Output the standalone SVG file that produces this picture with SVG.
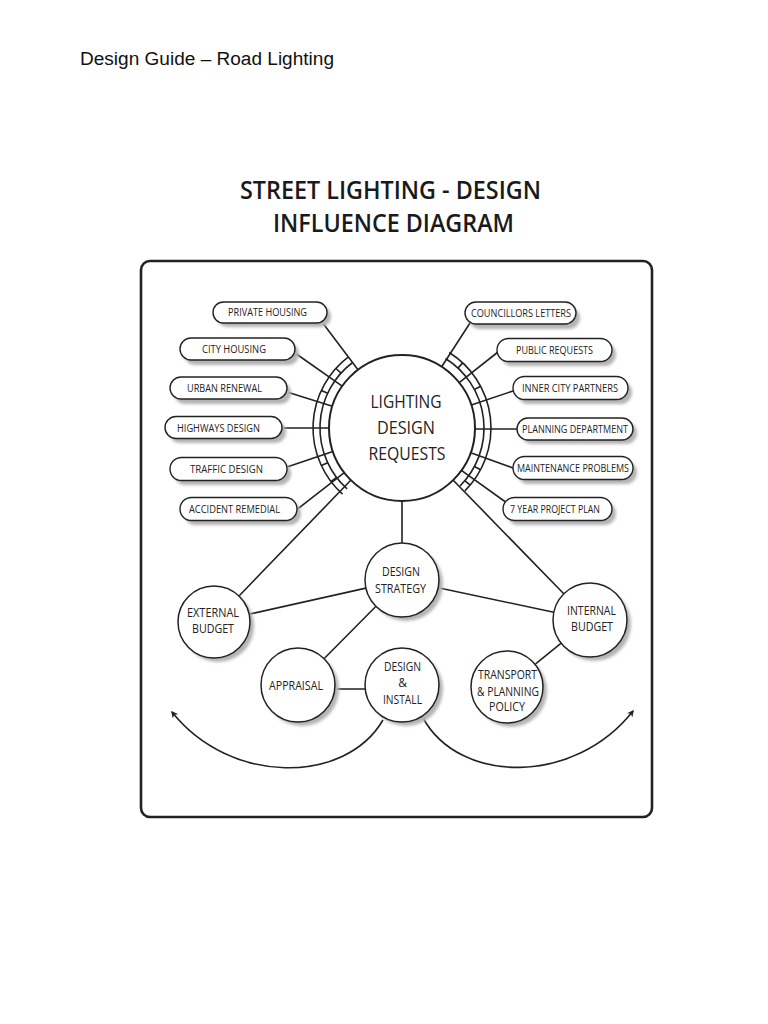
<svg xmlns="http://www.w3.org/2000/svg" width="768" height="1024" viewBox="0 0 768 1024">
<defs>
<filter id="sh" x="-20%" y="-20%" width="140%" height="140%"><feGaussianBlur stdDeviation="1.6"/></filter>
<marker id="ah" viewBox="0 0 10 10" refX="8" refY="5" markerWidth="7" markerHeight="7" orient="auto-start-reverse" markerUnits="userSpaceOnUse"><path d="M0,0 L10,5 L0,10 L3,5 Z" fill="#222"/></marker>
</defs>
<style>
.ln{stroke:#222;stroke-width:1.6;fill:none}
.pill{fill:#fff;stroke:#222;stroke-width:1.4}
.shd{fill:#b4b4b4;filter:url(#sh)}
.cir{fill:#fff;stroke:#222;stroke-width:1.5}
.pt{font-family:"Open Sans","Liberation Sans",sans-serif;font-size:10.5px;fill:#222;text-anchor:middle}
.ct{font-family:"Open Sans","Liberation Sans",sans-serif;font-size:12px;fill:#222;text-anchor:middle}
.mt{font-family:"Open Sans","Liberation Sans",sans-serif;font-size:18px;fill:#222;text-anchor:middle}
.tt{font-family:"Open Sans","Liberation Sans",sans-serif;font-size:26px;font-weight:600;fill:#1a1a1a;text-anchor:middle}
</style>
<rect width="768" height="1024" fill="#fff"/>
<text x="80" y="65" font-family="Liberation Sans, Arial, sans-serif" font-size="18" fill="#111" textLength="254" lengthAdjust="spacingAndGlyphs">Design Guide – Road Lighting</text>
<text class="tt" x="390.5" y="199" textLength="301" lengthAdjust="spacingAndGlyphs">STREET LIGHTING - DESIGN</text>
<text class="tt" x="393.5" y="232" textLength="241" lengthAdjust="spacingAndGlyphs">INFLUENCE DIAGRAM</text>
<rect x="141" y="261" width="511" height="556" rx="9" fill="none" stroke="#222" stroke-width="2.6"/>

<g id="connectors">
<path class="ln" d="M342.5,494.1 A89,89 0 0 1 348.4,356.9 M347.1,488.9 A82,82 0 0 1 352.6,362.5"/>
<path class="ln" d="M449.2,352.5 A89,89 0 0 1 464.9,490.9 M445.5,358.5 A82,82 0 0 1 460,486"/>
<path class="ln" d="M322,322 L358,369.7 M295,353 L342.2,386.1 M287,392 L332.4,406.2 M282,428 L329,428 M287,467 L332.9,451.4 M295,511 L344.3,472.7"/>
<path class="ln" d="M470,323 L441.7,366.7 M498,352 L459.2,382.7 M513,391 L471.3,404.9 M517,429 L475,429 M513,468 L470.7,452.7 M507,503 L461.4,470.4"/>
<path class="ln" d="M341.1,373.1 L335.9,368.5 M327.7,393.3 L321.4,390.4 M327.7,462.7 L321.4,465.6 M336.5,477.4 L330.9,481.6 M457.9,368.1 L462.7,362.9 M474.4,389.5 L480.6,386.3 M474.4,466.5 L480.6,469.7 M464.8,480.7 L470.2,485.2"/>
<path class="ln" d="M239,596 L351,480 M564,594 L453,480"/>
<path class="ln" d="M402,501 L402,543 M365.9,588.1 L249.1,614.2 M438.2,587.7 L553.8,612.3 M376,606.3 L324,658.7 M335,689 L365,689 M561.2,643.2 L535,664.4"/>
<path class="ln" d="M383,720 C345,785 230,785 172,712" marker-end="url(#ah)"/>
<path class="ln" d="M423,718 C460,785 575,785 633,711" marker-end="url(#ah)"/>
</g>

<g id="n-private-housing"><rect class="shd" x="217" y="306" width="114" height="21" rx="10.5"/><rect class="pill" x="213" y="302" width="114" height="21" rx="10.5"/><text class="pt" x="267.5" y="316" textLength="79" lengthAdjust="spacingAndGlyphs">PRIVATE HOUSING</text></g>
<g id="n-city-housing"><rect class="shd" x="184" y="343" width="115" height="22" rx="11"/><rect class="pill" x="180" y="338" width="115" height="22" rx="11"/><text class="pt" x="234" y="353" textLength="64" lengthAdjust="spacingAndGlyphs">CITY HOUSING</text></g>
<g id="n-urban-renewal"><rect class="shd" x="174" y="382" width="117" height="22" rx="11"/><rect class="pill" x="170" y="377" width="117" height="22" rx="11"/><text class="pt" x="224.5" y="392" textLength="75" lengthAdjust="spacingAndGlyphs">URBAN RENEWAL</text></g>
<g id="n-highways-design"><rect class="shd" x="169" y="421" width="117" height="22" rx="11"/><rect class="pill" x="165" y="416.5" width="117" height="22" rx="11"/><text class="pt" x="218.5" y="431.5" textLength="83" lengthAdjust="spacingAndGlyphs">HIGHWAYS DESIGN</text></g>
<g id="n-traffic-design"><rect class="shd" x="174" y="462" width="117" height="23" rx="11.5"/><rect class="pill" x="170" y="457.5" width="117" height="23" rx="11.5"/><text class="pt" x="226.5" y="473" textLength="73" lengthAdjust="spacingAndGlyphs">TRAFFIC DESIGN</text></g>
<g id="n-accident-remedial"><rect class="shd" x="184" y="502" width="117" height="23" rx="11.5"/><rect class="pill" x="180" y="497.5" width="117" height="23" rx="11.5"/><text class="pt" x="234.5" y="513" textLength="91" lengthAdjust="spacingAndGlyphs">ACCIDENT REMEDIAL</text></g>

<g id="n-councillors-letters"><rect class="shd" x="469" y="307" width="111" height="22" rx="11"/><rect class="pill" x="465" y="302" width="111" height="22" rx="11"/><text class="pt" x="521" y="317" textLength="100" lengthAdjust="spacingAndGlyphs">COUNCILLORS LETTERS</text></g>
<g id="n-public-requests"><rect class="shd" x="501" y="343" width="115" height="23" rx="11.5"/><rect class="pill" x="497" y="338.5" width="115" height="23" rx="11.5"/><text class="pt" x="554.5" y="354" textLength="77" lengthAdjust="spacingAndGlyphs">PUBLIC REQUESTS</text></g>
<g id="n-inner-city-partners"><rect class="shd" x="517" y="381" width="115" height="23" rx="11.5"/><rect class="pill" x="513" y="376.5" width="115" height="23" rx="11.5"/><text class="pt" x="570" y="392" textLength="96" lengthAdjust="spacingAndGlyphs">INNER CITY PARTNERS</text></g>
<g id="n-planning-department"><rect class="shd" x="521" y="422" width="116" height="22" rx="11"/><rect class="pill" x="517" y="418" width="116" height="22" rx="11"/><text class="pt" x="575" y="433" textLength="106" lengthAdjust="spacingAndGlyphs">PLANNING DEPARTMENT</text></g>
<g id="n-maintenance-problems"><rect class="shd" x="517" y="461" width="120" height="23" rx="11.5"/><rect class="pill" x="513" y="456.5" width="120" height="23" rx="11.5"/><text class="pt" x="573" y="472" textLength="112" lengthAdjust="spacingAndGlyphs">MAINTENANCE PROBLEMS</text></g>
<g id="n-7-year-project-plan"><rect class="shd" x="507" y="502" width="109" height="23" rx="11.5"/><rect class="pill" x="503" y="497.5" width="109" height="23" rx="11.5"/><text class="pt" x="555" y="513" textLength="90" lengthAdjust="spacingAndGlyphs">7 YEAR PROJECT PLAN</text></g>

<g id="n-lighting-design-requests"><circle cx="402" cy="428" r="73" fill="#fff" stroke="#222" stroke-width="2"/>
<text class="mt" x="406" y="408" textLength="71" lengthAdjust="spacingAndGlyphs">LIGHTING</text>
<text class="mt" x="406" y="434" textLength="58" lengthAdjust="spacingAndGlyphs">DESIGN</text>
<text class="mt" x="407" y="460" textLength="77" lengthAdjust="spacingAndGlyphs">REQUESTS</text></g>

<g id="n-design-strategy"><circle class="shd" cx="406" cy="584" r="37"/><circle class="cir" cx="402" cy="580" r="37"/>
<text class="ct" x="401" y="576" textLength="38" lengthAdjust="spacingAndGlyphs">DESIGN</text>
<text class="ct" x="400.5" y="593" textLength="51" lengthAdjust="spacingAndGlyphs">STRATEGY</text></g>
<g id="n-external-budget"><circle class="shd" cx="218" cy="626" r="36"/><circle class="cir" cx="214" cy="622" r="36"/>
<text class="ct" x="213" y="617" textLength="52" lengthAdjust="spacingAndGlyphs">EXTERNAL</text>
<text class="ct" x="213" y="633" textLength="42" lengthAdjust="spacingAndGlyphs">BUDGET</text></g>
<g id="n-internal-budget"><circle class="shd" cx="594" cy="624" r="37"/><circle class="cir" cx="590" cy="620" r="37"/>
<text class="ct" x="591.5" y="615" textLength="49" lengthAdjust="spacingAndGlyphs">INTERNAL</text>
<text class="ct" x="592" y="631" textLength="42" lengthAdjust="spacingAndGlyphs">BUDGET</text></g>
<g id="n-appraisal"><circle class="shd" cx="302" cy="689" r="37"/><circle class="cir" cx="298" cy="685" r="37"/>
<text class="ct" x="296" y="690" textLength="54" lengthAdjust="spacingAndGlyphs">APPRAISAL</text></g>
<g id="n-design-install"><circle class="shd" cx="406" cy="689" r="37"/><circle class="cir" cx="402" cy="685" r="37"/>
<text class="ct" x="402.5" y="671" textLength="37" lengthAdjust="spacingAndGlyphs">DESIGN</text>
<text class="ct" x="402.5" y="687" font-size="11">&amp;</text>
<text class="ct" x="402.5" y="704" textLength="39" lengthAdjust="spacingAndGlyphs">INSTALL</text></g>
<g id="n-transport-planning-policy"><circle class="shd" cx="511" cy="691" r="36"/><circle class="cir" cx="507" cy="687" r="36"/>
<text class="ct" x="507.5" y="679" font-size="11.5" textLength="59" lengthAdjust="spacingAndGlyphs">TRANSPORT</text>
<text class="ct" x="508" y="695.5" font-size="11.5" textLength="62" lengthAdjust="spacingAndGlyphs">&amp; PLANNING</text>
<text class="ct" x="507" y="711" font-size="11.5" textLength="36" lengthAdjust="spacingAndGlyphs">POLICY</text></g>
</svg>
